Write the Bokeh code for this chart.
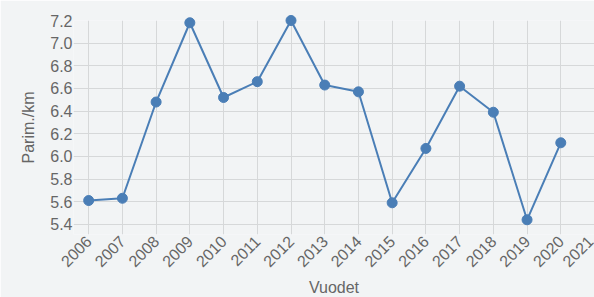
from bokeh.plotting import figure
from bokeh.models import FixedTicker, PrintfTickFormatter, Range1d
from bokeh.embed import file_html
from bokeh.resources import INLINE

years = [2006, 2007, 2008, 2009, 2010, 2011, 2012, 2013, 2014, 2015, 2016, 2017, 2018, 2019, 2020]
values = [5.61, 5.63, 6.48, 7.18, 6.52, 6.66, 7.20, 6.63, 6.57, 5.59, 6.07, 6.62, 6.39, 5.44, 6.12]
x_ticks = list(range(2006, 2022))
y_ticks = [5.4, 5.6, 5.8, 6.0, 6.2, 6.4, 6.6, 6.8, 7.0, 7.2]

BG = "#f2f4f5"
GRID = "#d6d8d9"
TXT = "#666666"
LINE = "#4a7eb6"
FONT = "Liberation Sans"

p = figure(
    output_backend="svg", toolbar_location=None,
    frame_width=521, frame_height=214,
    min_border_left=73, min_border_right=0, min_border_top=20, min_border_bottom=62,
    x_range=Range1d(2005.55, 2021.0), y_range=Range1d(5.31, 7.2),
    background_fill_color=BG, border_fill_color=BG,
)
p.outline_line_color = None

p.xaxis.ticker = FixedTicker(ticks=x_ticks)
p.yaxis.ticker = FixedTicker(ticks=y_ticks)
p.yaxis.formatter = PrintfTickFormatter(format="%.1f")
p.xaxis.major_label_orientation = 0.785398

for ax in (p.xaxis, p.yaxis):
    ax.axis_line_color = None
    ax.major_tick_line_color = None
    ax.minor_tick_line_color = None
    ax.major_tick_out = 0
    ax.major_tick_in = 0
    ax.minor_tick_out = 0
    ax.minor_tick_in = 0
    ax.major_label_text_font = FONT
    ax.major_label_text_font_size = "16px"
    ax.major_label_text_color = TXT
    ax.axis_label_text_font = FONT
    ax.axis_label_text_font_size = "16px"
    ax.axis_label_text_font_style = "normal"
    ax.axis_label_text_color = TXT

p.xaxis.axis_label = "Vuodet"
p.yaxis.axis_label = "Parim./km"
p.xaxis.major_label_standoff = 4
p.yaxis.major_label_standoff = 1
p.xaxis.axis_label_standoff = 4
p.yaxis.axis_label_standoff = 10

p.xgrid.grid_line_color = GRID
p.ygrid.grid_line_color = GRID
p.xgrid.grid_line_width = 1
p.ygrid.grid_line_width = 1

l = p.line(years, values, line_color=LINE, line_width=2)
s = p.scatter(years, values, size=10, fill_color=LINE, line_color=LINE)
l.level = "overlay"
s.level = "overlay"

open("out.html", "w").write(file_html(p, INLINE))
